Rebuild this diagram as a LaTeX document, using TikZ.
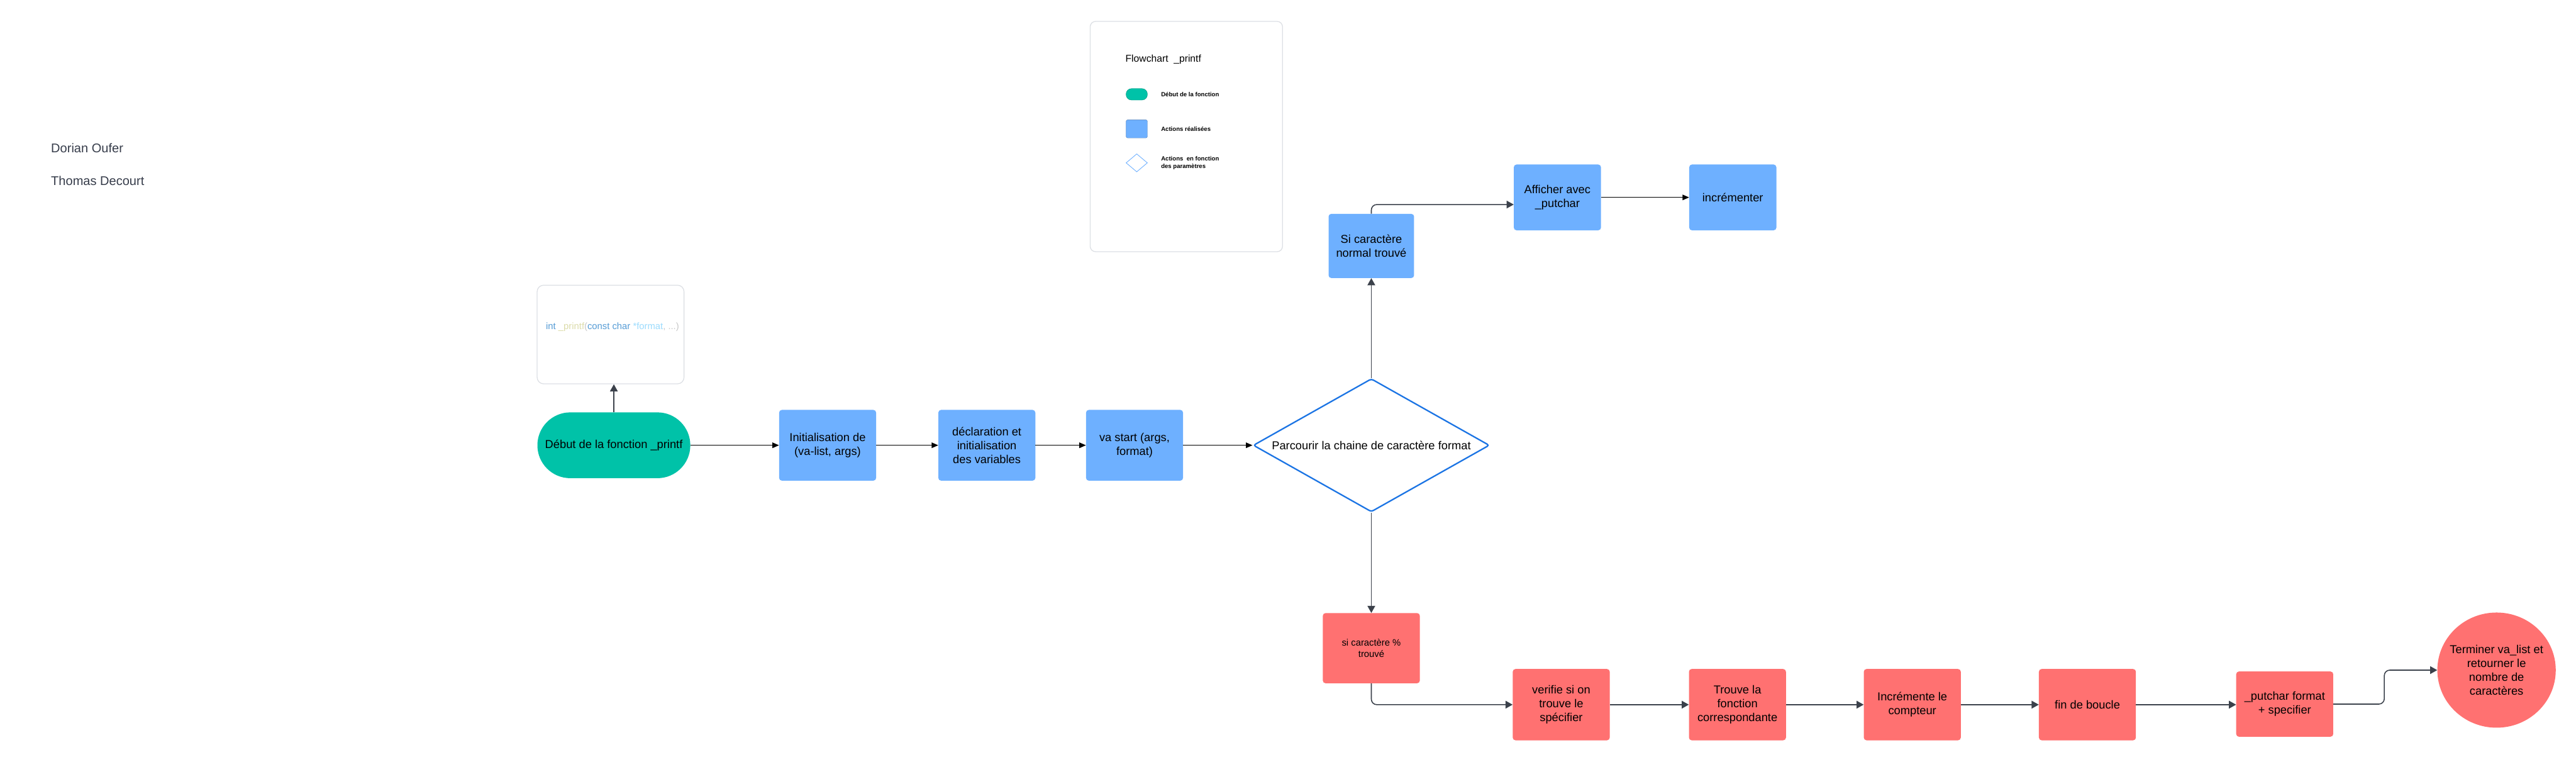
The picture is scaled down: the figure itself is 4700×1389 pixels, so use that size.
\documentclass[tikz,border=0pt]{standalone}
\usepackage{fontspec}
\setmainfont{Liberation Sans}
\usetikzlibrary{shapes.geometric,arrows.meta}

\definecolor{actblue}{HTML}{6EB0FF}
\definecolor{actred}{HTML}{FF7171}
\definecolor{startteal}{HTML}{00C2A8}
\definecolor{decblue}{HTML}{1B74E4}
\definecolor{lnkgrey}{HTML}{3B414B}
\definecolor{namegrey}{HTML}{363C4A}
\definecolor{framegrey}{HTML}{DDE0E5}
\definecolor{kwblue}{HTML}{569CD6}
\definecolor{fnyellow}{HTML}{DCDCAA}
\definecolor{varblue}{HTML}{9CDCFE}
\definecolor{puncgrey}{HTML}{C8C8C8}

\tikzset{
  txt/.style={font=\fontsize{21}{25.5}\selectfont, align=center, text=black},
  startnode/.style={txt, fill=startteal, rounded corners=60pt, minimum width=279pt, minimum height=120pt, inner xsep=6pt},
  actnode/.style={txt, fill=actblue, rounded corners=5pt, minimum width=177pt, minimum height=129pt, inner sep=2pt},
  parnode/.style={txt, fill=actred, rounded corners=5pt, minimum width=177pt, minimum height=130pt, inner sep=2pt},
  decision/.style={txt, diamond, draw=decblue, line width=2.6pt, rounded corners=4pt, minimum width=431pt, minimum height=243pt, aspect=1.77, inner sep=0pt},
  endnode/.style={txt, ellipse, fill=actred, minimum width=216pt, minimum height=210pt, inner xsep=-20pt},
  link/.style={draw=lnkgrey, line width=1.8pt, -{Triangle[length=13pt,width=14pt]}},
  flow/.style={draw=black, line width=1.5pt, -{Triangle[length=12pt,width=10pt]}},
  legtxt/.style={font=\bfseries\fontsize{11}{14}\selectfont, anchor=west, align=left},
  auteur/.style={anchor=west, inner sep=0pt, text=namegrey, font=\fontsize{23}{28}\selectfont}
}

\begin{document}
\begin{tikzpicture}[x=1pt, y=-1pt]
\useasboundingbox[fill=white] (0,0) rectangle (4700,1389);

% auteurs
\node[auteur] (nom1) at (93,270) {Dorian Oufer};
\node[auteur] (nom2) at (93,330) {Thomas Decourt};

% legende
\node[draw=framegrey, line width=1.5pt, rounded corners=10pt, minimum width=351pt, minimum height=420pt] (legende) at (2164.5,249) {};
\node[anchor=west, font=\fontsize{18}{22}\selectfont] (legtitre) at (2050,108) {Flowchart\ \ \_printf};
\node[fill=startteal, draw=startteal!70!black, rounded corners=10pt, minimum width=39pt, minimum height=21pt, inner sep=0pt] (legdebut) at (2074,172) {};
\node[legtxt] (legdebuttxt) at (2115,172) {Début de la fonction};
\node[fill=actblue, draw=actblue!70!black, rounded corners=3pt, minimum width=39pt, minimum height=33pt, inner sep=0pt] (legact) at (2074,235) {};
\node[legtxt] (legacttxt) at (2115,235) {Actions réalisées};
\node[diamond, draw=actblue, fill=white, line width=1pt, minimum width=39pt, minimum height=33pt, inner sep=0pt] (legpar) at (2074,297) {};
\node[legtxt] (legpartxt) at (2115,297) {Actions\ \ en fonction\\des paramètres};

% prototype
\node[draw=framegrey, line width=1.5pt, rounded corners=12pt, minimum width=268pt, minimum height=180pt] (proto) at (1114,610) {};
\node[anchor=west, font=\fontsize{17}{20}\selectfont, inner sep=0pt] (prototxt) at (996,596)
  {\color{kwblue}int \color{fnyellow}\_printf\color{puncgrey}(\color{kwblue}const char \color{varblue}*format\color{puncgrey}, ...)};

% chemin principal
\node[startnode] (debut) at (1120,812) {Début de la fonction \_printf};
\node[actnode] (init) at (1510,812) {Initialisation de\\(va-list, args)};
\node[actnode] (decl) at (1800.5,812) {déclaration et\\initialisation\\des variables};
\node[actnode] (vastart) at (2070,812) {va start (args,\\format)};
\node[decision] (parcours) at (2502,812) {Parcourir la chaine de caractère format};

% caractere normal
\node[actnode, minimum width=156pt, minimum height=117pt] (sinorm) at (2502,448.5) {Si caractère\\normal trouvé};
\node[actnode, minimum width=159pt, minimum height=120pt] (affich) at (2841.5,360) {Afficher avec\\\_putchar};
\node[actnode, minimum width=159pt, minimum height=120pt] (incr) at (3161.5,360) {incrémenter};

% caractere %
\node[parnode, minimum height=128pt, font=\fontsize{17}{21}\selectfont] (sipct) at (2502,1182) {si caractère \%\\trouvé};
\node[parnode] (verif) at (2848.5,1285) {verifie si on\\trouve le\\spécifier};
\node[parnode] (trouve) at (3170,1285) {Trouve la\\fonction\\correspondante};
\node[parnode] (increm) at (3489,1285) {Incrémente le\\compteur};
\node[parnode] (finb) at (3808.5,1285) {fin de boucle};
\node[parnode, minimum height=119pt] (putc) at (4168.5,1284) {\_putchar format\\+ specifier};
\node[endnode] (terminer) at (4555,1222) {Terminer va\_list et\\retourner le\\nombre de\\caractères};

% liens
\draw[link] (debut.north) -- (debut.north |- proto.south);
\draw[flow] (debut) -- (init);
\draw[flow] (init) -- (decl);
\draw[flow] (decl) -- (vastart);
\draw[flow] (vastart) -- (parcours);
\draw[link] (parcours) -- (sinorm);
\draw[link, rounded corners=10pt] (sinorm.north) |- ([yshift=-13pt]affich.west);
\draw[flow] (affich) -- (incr);
\draw[link] (parcours) -- (sipct);
\draw[link, rounded corners=10pt] (sipct.south) |- (verif.west);
\draw[link] (verif) -- (trouve);
\draw[link] (trouve) -- (increm);
\draw[link] (increm) -- (finb);
\draw[link] (finb.east) -- (finb.east -| putc.west);
\draw[link, rounded corners=10pt] (putc.east) -- ++(93,0) |- (terminer.west);
\end{tikzpicture}
\end{document}
